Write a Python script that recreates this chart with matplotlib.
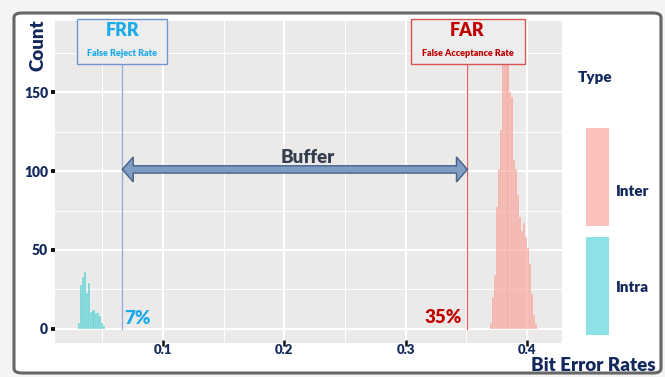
import numpy as np
import matplotlib
matplotlib.use('Agg')
import matplotlib.pyplot as plt
from matplotlib.patches import Rectangle, Polygon, FancyBboxPatch

plt.rcParams['font.family'] = ['Lato', 'DejaVu Sans']
plt.rcParams['font.weight'] = 'heavy'

# histogram data (bin counts)
bin_width = 0.0017
intra_start = 0.0300
intra_counts = [4, 28, 33, 36, 23, 29, 11, 12, 10, 10, 8, 4, 2]
inter_start = 0.3696
inter_counts = [4, 20, 34, 77, 101, 126, 168, 186, 169, 150, 147, 107, 101,
                85, 71, 62, 67, 58, 51, 41, 22, 9, 3]

frr_x = 0.0665
far_x = 0.351
buffer_y = 101
x_ticks = [0.1, 0.2, 0.3, 0.4]
x_tick_labels = ['0.1', '0.2', '0.3', '0.4']
y_ticks = [0, 50, 100, 150]
types = ['Inter', 'Intra']

navy = '#13295c'
pink = '#F8766D'
teal = '#00BFC4'
W, H = 665, 377

fig = plt.figure(figsize=(W / 100, H / 100), dpi=100)
fig.patch.set_facecolor('#F4F4F4')

# outer rounded frame
frame = FancyBboxPatch((14 / W, 4 / H), 647 / W, 360 / H,
                       boxstyle='round,pad=0,rounding_size=0.012',
                       transform=fig.transFigure, facecolor='white',
                       edgecolor='#666666', linewidth=2.2, zorder=0)
fig.add_artist(frame)

ax = fig.add_axes([55 / W, (H - 343) / H, 507 / W, 322 / H])
ax.set_facecolor('#EBEAE8')
ax.set_xlim(0.011, 0.429)
ax.set_ylim(-8.9, 195)

intra_edges = intra_start + bin_width * np.arange(len(intra_counts))
inter_edges = inter_start + bin_width * np.arange(len(inter_counts))
ax.bar(inter_edges, inter_counts, width=bin_width, align='edge', color=pink,
       alpha=0.52, edgecolor=(1, 1, 1, 0.08), linewidth=0.3, zorder=3)
ax.bar(intra_edges, intra_counts, width=bin_width, align='edge', color=teal,
       alpha=0.52, edgecolor=(1, 1, 1, 0.08), linewidth=0.3, zorder=3)

# grid
ax.set_xticks(x_ticks)
ax.set_xticklabels(x_tick_labels)
ax.set_yticks(y_ticks)
ax.set_xticks([0.05, 0.15, 0.25, 0.35], minor=True)
ax.set_yticks([25, 75, 125, 175], minor=True)
ax.grid(which='major', color='white', linewidth=1.5, zorder=1)
ax.grid(which='minor', color='white', linewidth=0.7, zorder=1)
ax.set_axisbelow(True)
for s in ax.spines.values():
    s.set_visible(False)
ax.tick_params(which='major', length=3, width=2.8, color='#111111',
               labelcolor=navy, labelsize=10, pad=2)
ax.tick_params(axis='x', which='major', direction='inout', length=4,
               width=1.8, pad=-1, labelsize=9.5)
ax.tick_params(which='minor', length=0)
for lab in ax.get_xticklabels() + ax.get_yticklabels():
    lab.set_fontweight('heavy')

# FRR / FAR boxes and lines
box_bottom = 167.8
ax.plot([frr_x, frr_x], [0, box_bottom], color='#8FAADC', lw=0.9, zorder=4)
ax.plot([far_x, far_x], [0, box_bottom], color='#E06666', lw=0.9, zorder=4)
ax.add_patch(Rectangle((0.0291, box_bottom), 0.0742, 28.5, facecolor='#EDEDED',
                       edgecolor='#6F95D6', lw=1.0, zorder=5, clip_on=False))
ax.add_patch(Rectangle((0.3044, box_bottom), 0.0940, 28.5, facecolor='#EDEDED',
                       edgecolor='#D9534F', lw=1.0, zorder=5, clip_on=False))
ax.text(frr_x, 188.8, 'FRR', color='#1AAAE8', fontsize=13, ha='center',
        va='center', zorder=6)
ax.text(frr_x, 174.5, 'False Reject Rate', color='#1AAAE8', fontsize=6.5,
        ha='center', va='center', zorder=6)
ax.text(far_x, 188.8, 'FAR', color='#C00000', fontsize=13, ha='center',
        va='center', zorder=6)
ax.text(far_x, 174.5, 'False Acceptance Rate', color='#C00000', fontsize=6.5,
        ha='center', va='center', zorder=6)
ax.text(frr_x + 0.0015, 6.5, '7%', color='#1AAAE8', fontsize=13.5,
        ha='left', va='center', zorder=6)
ax.text(far_x - 0.0045, 7, '35%', color='#C00000', fontsize=13.5,
        ha='right', va='center', zorder=6)

# double headed block arrow
hl, hw, sw = 0.009, 7.9, 2.3
arrow = Polygon([(frr_x, buffer_y), (frr_x + hl, buffer_y + hw),
                 (frr_x + hl, buffer_y + sw), (far_x - hl, buffer_y + sw),
                 (far_x - hl, buffer_y + hw), (far_x, buffer_y),
                 (far_x - hl, buffer_y - hw), (far_x - hl, buffer_y - sw),
                 (frr_x + hl, buffer_y - sw), (frr_x + hl, buffer_y - hw)],
                closed=True, facecolor='#7F9CC2', edgecolor='#44618C',
                lw=1.0, zorder=6)
ax.add_patch(arrow)
ax.text(0.2195, 108.7, 'Buffer', color='#333F50', fontsize=13.5,
        ha='center', va='center', zorder=6)

# axis titles
fig.text(38 / W, 1 - 45 / H, 'Count', rotation=90, color=navy, fontsize=13.5,
         ha='center', va='center')
fig.text(656 / W, 1 - 365.5 / H, 'Bit Error Rates', color=navy, fontsize=13.5,
         ha='right', va='center')

# legend
fig.text(595 / W, 1 - 77 / H, 'Type', color=navy, fontsize=11,
         ha='center', va='center')
key_colors = [pink, teal]
key_tops = [128, 237]
label_y = [192, 287]
for name, c, top, ly in zip(types, key_colors, key_tops, label_y):
    fig.add_artist(Rectangle((586 / W, 1 - (top + 98) / H), 23 / W, 98 / H,
                             transform=fig.transFigure, facecolor=c,
                             alpha=0.45, edgecolor='none'))
    fig.text(616 / W, 1 - ly / H, name, color=navy, fontsize=11,
             ha='left', va='center')

fig.savefig('out.png', dpi=100, facecolor=fig.get_facecolor())
